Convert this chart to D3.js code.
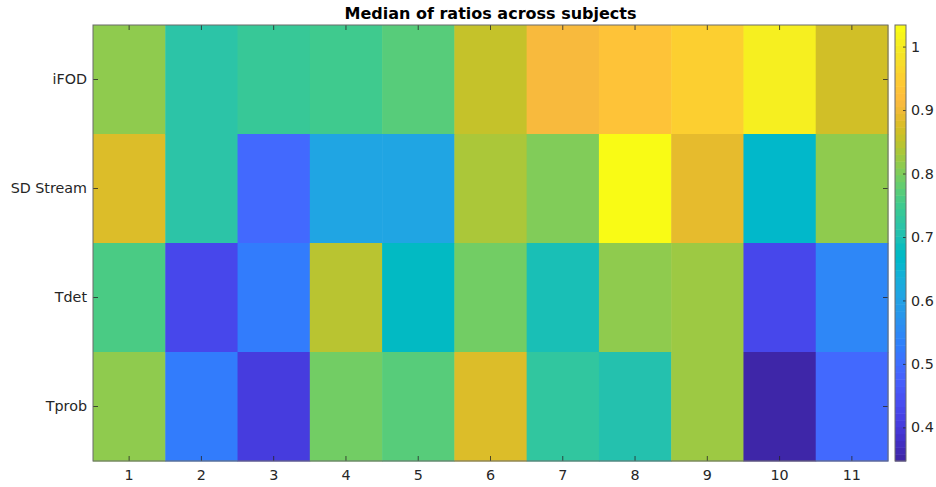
<!DOCTYPE html>
<html>
<head>
<meta charset="utf-8">
<script src="https://cdn.jsdelivr.net/npm/d3@7"></script>
<style>
  body { margin: 0; background: #fff; }
  svg { display: block; font-family: "DejaVu Sans", sans-serif; }
</style>
</head>
<body>
<svg id="canvas"></svg>
<script>
// row labels (top to bottom) and column labels
let methods = ["iFOD", "SD Stream", "Tdet", "Tprob"];
let subjects = [1, 2, 3, 4, 5, 6, 7, 8, 9, 10, 11];

// median ratios
let iFOD     = [0.815, 0.719, 0.740, 0.751, 0.772, 0.858, 0.912, 0.933, 0.955, 1.009, 0.869];
let sdStream = [0.880, 0.719, 0.492, 0.609, 0.613, 0.837, 0.805, 1.034, 0.890, 0.665, 0.815];
let tdet     = [0.762, 0.428, 0.524, 0.848, 0.676, 0.794, 0.697, 0.815, 0.826, 0.428, 0.546];
let tprob    = [0.815, 0.524, 0.406, 0.794, 0.772, 0.880, 0.730, 0.708, 0.826, 0.347, 0.492];

let colorbarTicks = [0.4, 0.5, 0.6, 0.7, 0.8, 0.9, 1];

// parula(64)
let parula = [
  [0.2422,0.1504,0.6603],[0.2504,0.1650,0.7076],[0.2578,0.1818,0.7511],[0.2647,0.1978,0.7952],
  [0.2706,0.2147,0.8364],[0.2751,0.2342,0.8710],[0.2783,0.2559,0.8991],[0.2803,0.2782,0.9221],
  [0.2813,0.3006,0.9414],[0.2810,0.3228,0.9579],[0.2795,0.3447,0.9717],[0.2760,0.3667,0.9829],
  [0.2699,0.3892,0.9906],[0.2602,0.4123,0.9952],[0.2440,0.4358,0.9988],[0.2206,0.4603,0.9973],
  [0.1963,0.4847,0.9892],[0.1834,0.5074,0.9798],[0.1786,0.5289,0.9682],[0.1764,0.5499,0.9520],
  [0.1687,0.5703,0.9359],[0.1540,0.5902,0.9218],[0.1460,0.6091,0.9079],[0.1380,0.6276,0.8973],
  [0.1248,0.6459,0.8883],[0.1113,0.6635,0.8763],[0.0952,0.6798,0.8598],[0.0689,0.6948,0.8394],
  [0.0297,0.7082,0.8163],[0.0036,0.7203,0.7917],[0.0067,0.7312,0.7660],[0.0433,0.7411,0.7394],
  [0.0964,0.7500,0.7120],[0.1408,0.7584,0.6842],[0.1717,0.7670,0.6554],[0.1938,0.7758,0.6251],
  [0.2161,0.7843,0.5923],[0.2470,0.7918,0.5567],[0.2906,0.7973,0.5188],[0.3406,0.8008,0.4789],
  [0.3909,0.8029,0.4354],[0.4456,0.8024,0.3909],[0.5044,0.7993,0.3480],[0.5616,0.7942,0.3045],
  [0.6174,0.7876,0.2612],[0.6720,0.7793,0.2227],[0.7242,0.7698,0.1910],[0.7738,0.7598,0.1646],
  [0.8203,0.7498,0.1535],[0.8634,0.7406,0.1596],[0.9035,0.7330,0.1774],[0.9393,0.7288,0.2100],
  [0.9728,0.7298,0.2394],[0.9956,0.7434,0.2371],[0.9970,0.7659,0.2199],[0.9952,0.7893,0.2028],
  [0.9892,0.8136,0.1885],[0.9786,0.8386,0.1766],[0.9676,0.8639,0.1643],[0.9610,0.8890,0.1537],
  [0.9597,0.9135,0.1423],[0.9628,0.9373,0.1265],[0.9691,0.9606,0.1064],[0.9769,0.9839,0.0805]
].map(c => d3.rgb(c[0] * 255, c[1] * 255, c[2] * 255).formatHex());

let width = 936;
let height = 487;
let plotLeft = 93, plotRight = 888, plotTop = 25, plotBottom = 461;
let axisColor = "#262626";

let rows = [iFOD, sdStream, tdet, tprob];
let cells = [];
rows.forEach((vals, r) => {
    vals.forEach((v, c) => {
        cells.push({ method: methods[r], subject: subjects[c], value: v });
    });
});

let extent = d3.extent(cells, d => d.value);

let canvas = d3.select("#canvas")
    .attr("width", width)
    .attr("height", height);

let xScale = d3.scaleBand().domain(subjects).range([plotLeft, plotRight]);
let yScale = d3.scaleBand().domain(methods).range([plotTop, plotBottom]);
let color = d3.scaleQuantize().domain(extent).range(parula);

canvas.append("g")
    .selectAll("rect")
    .data(cells)
    .enter()
    .append("rect")
    .attr("x", d => xScale(d.subject))
    .attr("y", d => yScale(d.method))
    .attr("width", xScale.bandwidth() + 0.5)
    .attr("height", yScale.bandwidth() + 0.5)
    .attr("fill", d => color(d.value));

let styleAxis = (g) => {
    g.select(".domain").remove();
    g.selectAll(".tick line").attr("stroke", axisColor).attr("stroke-width", 0.8);
    g.selectAll(".tick text")
        .attr("fill", axisColor)
        .attr("font-size", "14.3px")
        .attr("font-family", "DejaVu Sans, sans-serif");
};

canvas.append("g")
    .attr("transform", "translate(0," + plotBottom + ")")
    .call(d3.axisBottom(xScale).tickSizeInner(-5).tickSizeOuter(0).tickPadding(9))
    .call(styleAxis);

canvas.append("g")
    .attr("transform", "translate(0," + plotTop + ")")
    .call(d3.axisTop(xScale).tickSizeInner(-5).tickSizeOuter(0).tickFormat(""))
    .call(styleAxis);

canvas.append("g")
    .attr("transform", "translate(" + plotLeft + ",0)")
    .call(d3.axisLeft(yScale).tickSizeInner(-5).tickSizeOuter(0).tickPadding(6))
    .call(styleAxis);

canvas.append("g")
    .attr("transform", "translate(" + plotRight + ",0)")
    .call(d3.axisRight(yScale).tickSizeInner(-5).tickSizeOuter(0).tickFormat(""))
    .call(styleAxis);

canvas.append("rect")
    .attr("x", plotLeft)
    .attr("y", plotTop)
    .attr("width", plotRight - plotLeft)
    .attr("height", plotBottom - plotTop)
    .attr("fill", "none")
    .attr("stroke", "#6a6a6a")
    .attr("stroke-width", 1);

canvas.append("text")
    .text("Median of ratios across subjects")
    .attr("x", (plotLeft + plotRight) / 2)
    .attr("y", 18.5)
    .attr("text-anchor", "middle")
    .attr("font-weight", "bold")
    .attr("font-size", "16px")
    .attr("fill", "#000");

// colorbar
let cbLeft = 895, cbRight = 906;
let cScale = d3.scaleLinear().domain(extent).range([plotBottom, plotTop]);

canvas.append("g")
    .selectAll("rect")
    .data(parula)
    .enter()
    .append("rect")
    .attr("x", cbLeft)
    .attr("width", cbRight - cbLeft)
    .attr("y", c => cScale(color.invertExtent(c)[1]))
    .attr("height", c => cScale(color.invertExtent(c)[0]) - cScale(color.invertExtent(c)[1]) + 0.5)
    .attr("fill", c => c);

canvas.append("g")
    .attr("transform", "translate(" + cbRight + ",0)")
    .call(d3.axisRight(cScale).tickValues(colorbarTicks).tickFormat(d3.format("")).tickSizeInner(-3).tickSizeOuter(0).tickPadding(5))
    .call(styleAxis);

canvas.append("rect")
    .attr("x", cbLeft)
    .attr("y", plotTop)
    .attr("width", cbRight - cbLeft)
    .attr("height", plotBottom - plotTop)
    .attr("fill", "none")
    .attr("stroke", "#6a6a6a")
    .attr("stroke-width", 1);
</script>
</body>
</html>
